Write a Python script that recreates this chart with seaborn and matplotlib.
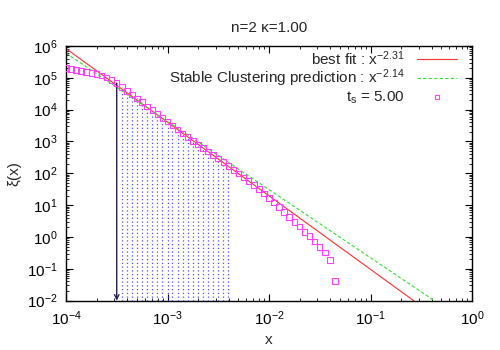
import numpy as np
import pandas as pd
import seaborn as sns
import matplotlib.pyplot as plt
from matplotlib.ticker import LogLocator, NullFormatter

x_vals = [1.00e-4, 1.12e-4, 1.26e-4, 1.41e-4, 1.58e-4, 1.78e-4, 2.00e-4, 2.24e-4, 2.51e-4, 2.82e-4,
          3.16e-4, 3.55e-4, 3.98e-4, 4.47e-4, 5.01e-4, 5.62e-4, 6.31e-4, 7.08e-4, 7.94e-4, 8.91e-4,
          1.00e-3, 1.12e-3, 1.26e-3, 1.41e-3, 1.58e-3, 1.78e-3, 2.00e-3, 2.24e-3, 2.51e-3, 2.82e-3,
          3.16e-3, 3.55e-3, 3.98e-3, 4.47e-3, 5.01e-3, 5.62e-3, 6.31e-3, 7.08e-3, 7.94e-3, 8.91e-3,
          1.00e-2, 1.12e-2, 1.26e-2, 1.41e-2, 1.58e-2, 1.78e-2, 2.00e-2, 2.24e-2, 2.51e-2, 2.82e-2,
          3.16e-2, 3.55e-2, 3.98e-2, 4.47e-2]
xi_vals = [2.0e5, 1.86e5, 1.74e5, 1.62e5, 1.51e5, 1.41e5, 1.32e5, 1.17e5, 1.02e5, 8.5e4,
           6.8e4, 5.1e4, 3.9e4, 2.95e4, 2.24e4, 1.70e4, 1.26e4, 9.5e3, 7.2e3, 5.5e3,
           4.2e3, 3.16e3, 2.4e3, 1.78e3, 1.35e3, 1.02e3, 794, 617, 479, 372,
           288, 224, 170, 129, 98, 74, 56, 42.7, 31.6, 23.4,
           17.0, 12.0, 8.7, 6.0, 4.2, 2.95, 2.14, 1.45, 1.05, 0.72,
           0.49, 0.32, 0.19, 0.042]

# power-law lines (end points)
fit_x = [1e-4, 1.0]
best_fit_y = [8.2e5, 4.7e-4]
stable_y = [5.9e5, 1.6e-3]

# fitting range shown by the impulses and the arrow
arrow_x = 3.16e-4
fit_range = (3.5e-4, 4.0e-3)

title = "n=2 κ=1.00"
label_fit = "best fit : x$^{-2.31}$"
label_stable = "Stable Clustering prediction : x$^{-2.14}$"
label_data = "t$_s$ = 5.00"

sns.set_theme(style="ticks")
plt.rcParams['font.family'] = ['Liberation Sans', 'DejaVu Sans']
plt.rcParams['mathtext.fontset'] = 'custom'
plt.rcParams['mathtext.rm'] = 'Liberation Sans'
plt.rcParams['mathtext.default'] = 'regular'

df = pd.DataFrame({"x": x_vals, "xi": xi_vals})
lines = pd.DataFrame({"x": fit_x, "fit": best_fit_y, "sc": stable_y})

fig = plt.figure(figsize=(5, 3.5), dpi=100)
ax = fig.add_axes([0.132, 0.141, 0.812, 0.728])

# impulses over the fitting range
sel = df[(df.x > fit_range[0]) & (df.x < fit_range[1])]
ax.vlines(sel.x, 1e-2, sel.xi, colors="#3030ff", linestyles=(0, (1, 2)), linewidth=0.9, alpha=0.85)
y_arrow = df.loc[df.x == arrow_x, "xi"].iloc[0]
ax.annotate("", xy=(arrow_x, 1e-2), xytext=(arrow_x, y_arrow),
            arrowprops=dict(arrowstyle="->", color="#202050", lw=1.0, shrinkA=0, shrinkB=0,
                            mutation_scale=8))

sns.lineplot(data=lines, x="x", y="fit", ax=ax, color="#ff3030", linewidth=0.8, label=label_fit)
sns.lineplot(data=lines, x="x", y="sc", ax=ax, color="#30e030", linewidth=0.8,
             linestyle=(0, (3, 2)), label=label_stable)
sns.scatterplot(data=df, x="x", y="xi", ax=ax, marker="s", s=16, facecolor="none",
                edgecolor="#ff40ff", linewidth=0.8, label=label_data, zorder=3)

ax.set_xscale("log")
ax.set_yscale("log")
ax.set_xlim(1e-4, 1)
ax.set_ylim(1e-2, 1e6)
ax.xaxis.set_major_locator(LogLocator(base=10, numticks=10))
ax.yaxis.set_major_locator(LogLocator(base=10, numticks=12))
ax.xaxis.set_minor_locator(LogLocator(base=10, subs=np.arange(2, 10), numticks=20))
ax.yaxis.set_minor_locator(LogLocator(base=10, subs=np.arange(2, 10), numticks=20))
ax.xaxis.set_minor_formatter(NullFormatter())
ax.yaxis.set_minor_formatter(NullFormatter())
ax.tick_params(which="both", direction="in", top=True, right=True, labelsize=11, colors="black")
ax.tick_params(which="major", length=5, width=0.8, pad=6)
ax.tick_params(which="minor", length=2.5, width=0.6)
for s in ax.spines.values():
    s.set_color("black")
    s.set_linewidth(1.0)

ax.set_xlabel("x", fontsize=11)
ax.set_ylabel("ξ(x)", fontsize=11)
ax.set_title(title, fontsize=11, pad=10)

# gnuplot-style key: right-aligned text, sample on the right
ax.legend(loc="upper right", bbox_to_anchor=(0.97, 1.0), frameon=False, markerfirst=False,
          fontsize=11, handlelength=2.6, labelspacing=0.0, borderaxespad=0, borderpad=0.2,
          handletextpad=0.8, markerscale=0.6)

fig.savefig("out.png", dpi=100)
